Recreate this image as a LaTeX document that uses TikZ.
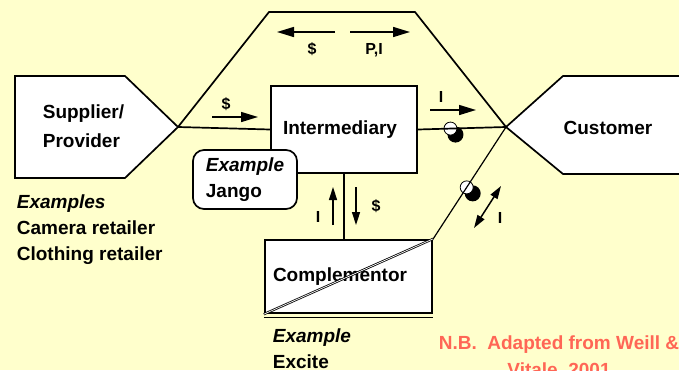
\documentclass[tikz,border=0pt]{standalone}
\usepackage{fontspec}
\setmainfont{Liberation Sans}
\usetikzlibrary{arrows.meta,positioning,calc}
\definecolor{slide}{HTML}{FFFFCC}
\definecolor{notered}{HTML}{FF6655}

\begin{document}
\begin{tikzpicture}[x=1pt,y=-1pt,
      >={Triangle[length=17pt,width=10pt]},
      line width=1.7pt,
      box/.style={draw,fill=white,line width=1.7pt},
      txt/.style={font=\fontsize{19}{26}\selectfont\bfseries,align=left,inner sep=0pt},
      tag/.style={font=\fontsize{16}{18}\selectfont\bfseries,inner sep=0pt},
      flow/.style={->,line width=1.5pt},
      vflow/.style={-{Triangle[length=13pt,width=8pt]},line width=1.5pt},
      twoway/.style={{Triangle[length=13pt,width=8pt]}-{Triangle[length=13pt,width=8pt]},line width=1.5pt},
      link/.style={line width=1.2pt}]
    \useasboundingbox (0,0) rectangle (679,370);
    \fill[slide] (0,0) rectangle (679,370);
    \clip (0,0) rectangle (679,370);

    \draw[box] (15,76) -- (125,76) -- (178,127) coordinate (suptip) -- (125,178) -- (15,178) -- cycle;
    \draw[box] (700,76) -- (563,76) -- (506,127) coordinate (custtip) -- (563,174) -- (700,174);
    \draw (suptip) -- (269,12) -- (415,12) -- (custtip);

    \node[box,txt,text width=122pt,inner xsep=12pt,minimum height=87pt] (inter) at (344,129.5) {Intermediary};
    \node[box,txt,rounded corners=11pt,minimum width=104pt,minimum height=59pt] (jango) at (245,179.5)
      {\textit{Example}\\Jango};
    \node[box,txt,line width=2.4pt,text width=151pt,inner xsep=8pt,minimum height=73pt] (comp) at (348.5,276.5)
      {Complementor};
    \draw[line width=1.2pt] ([yshift=-3.5pt]comp.south west) -- ([yshift=-3.5pt]comp.south east);
    \draw[line width=0.8pt,double=white,double distance=0.7pt] (comp.south west) -- (comp.north east);

    \path (inter.east) -- (custtip) coordinate[pos=0.37] (ball1);
    \path (custtip) -- (comp.north east) coordinate[pos=0.54] (ball2);
    \fill ($(ball1)+(5,6)$) circle[radius=8pt];
    \draw[fill=white,line width=0.8pt] (ball1) circle[radius=6.5pt];
    \fill ($(ball2)+(6,6)$) circle[radius=8pt];
    \draw[fill=white,line width=0.8pt] (ball2) circle[radius=6.5pt];

    \draw (suptip) -- (inter.west);
    \draw (inter.east) -- (custtip);
    \draw[link] (custtip) -- (comp.north east);
    \draw (inter.south) -- (inter.south |- comp.north);

    \draw[flow] (212,117) -- (258,117);
    \node[tag] (pay1) at (226,104) {\$};
    \draw[flow] (335,32) -- (277,32);
    \node[tag] (pay2) at (312,49) {\$};
    \draw[flow] (350,32) -- (410,32);
    \node[tag] (prodinfo) at (374,50) {P,I};
    \draw[flow] (430,110) -- (476,110);
    \node[tag] (info1) at (441,97) {I};
    \draw[vflow] (333,225) -- (333,187);
    \node[tag] (info2) at (318,217) {I};
    \draw[vflow] (356,187) -- (356,225);
    \node[tag] (pay3) at (376,206) {\$};
    \draw[twoway] (474,228) -- (501,186);
    \node[tag] (info3) at (500,218) {I};

    \node[txt,anchor=west] (suptxt) at (42,126) {Supplier/\\[3pt]Provider};
    \node[txt] (custtxt) at (608,128) {Customer};
    \node[txt,anchor=north west] (exsup) at (16,194)
      {\textit{Examples}\\Camera retailer\\Clothing retailer};
    \node[txt,anchor=north west] (excomp) at (272,328) {\textit{Example}\\Excite};
    \node[txt,text=notered,align=center,anchor=north] (note) at (559,335)
      {N.B.\ \ Adapted from Weill \&\\[1pt]Vitale, 2001};
  \end{tikzpicture}
\end{document}
